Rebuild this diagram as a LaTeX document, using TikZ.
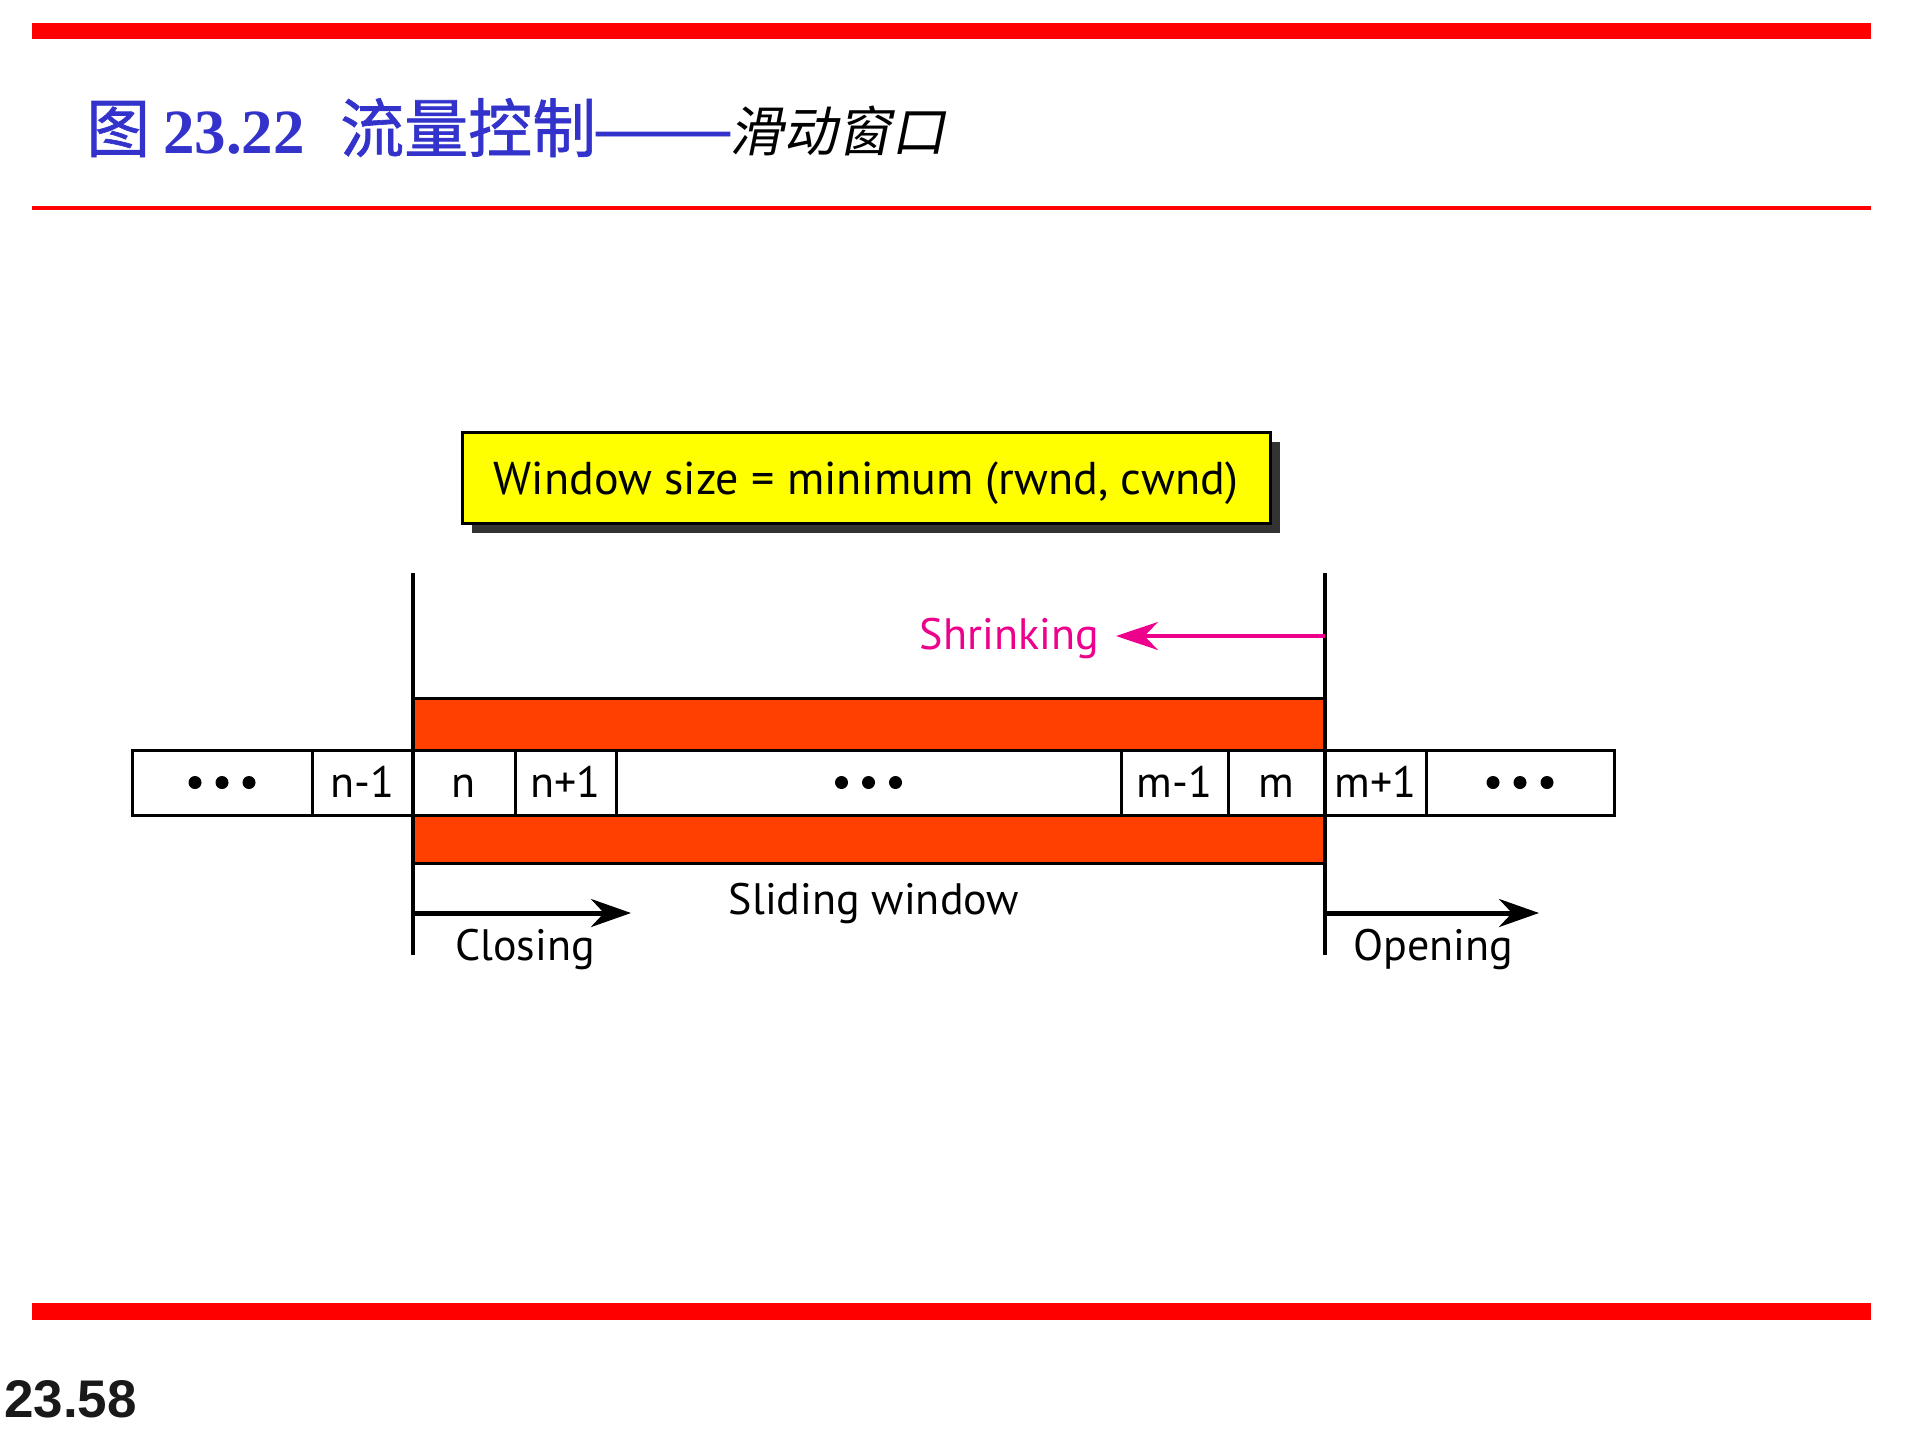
\documentclass[tikz,border=0pt]{standalone}
\usepackage{fontspec}
\usetikzlibrary{arrows.meta,shadows}
\newfontfamily\diagfont{PT Sans}
\newfontfamily\cjkfont[FakeBold=1]{Noto Sans CJK SC}
\newfontfamily\cjkslant[FakeSlant=0.2]{Noto Sans CJK SC}
\newfontfamily\titleserif{Liberation Serif}
\newfontfamily\pagefont{Liberation Sans}

\definecolor{rulered}{RGB}{255,0,0}
\definecolor{titleblue}{RGB}{51,51,204}
\definecolor{winorange}{RGB}{255,64,0}
\definecolor{boxyellow}{RGB}{255,255,0}
\definecolor{shrinkpink}{RGB}{236,0,140}
\definecolor{shadowgray}{RGB}{51,51,51}

\tikzset{
  titlecjk/.style={anchor=base west, inner sep=0pt, text=titleblue,
    font=\cjkfont\fontsize{64}{64}\selectfont},
  cell/.style={draw, line width=3pt, fill=white, minimum height=65pt,
    inner sep=0pt, text height=30pt, text depth=0pt,
    font=\diagfont\fontsize{44}{44}\selectfont},
  winbar/.style={draw, line width=3pt, fill=winorange, inner sep=0pt},
  edge/.style={line width=3.5pt},
  movearrow/.style={line width=5pt, -{Stealth[length=40pt, width=28pt]}},
  shrinkarrow/.style={line width=4.5pt, draw=shrinkpink,
    -{Stealth[length=42pt, width=28pt]}},
  label/.style={inner sep=0pt, font=\diagfont\fontsize{44}{44}\selectfont},
  dot/.style={fill=black}
}

\begin{document}
\begin{tikzpicture}[x=1pt,y=-1pt]
\useasboundingbox (0,0) rectangle (1920,1440);

% page rules
\fill[rulered] (32,23) rectangle (1871,39);
\fill[rulered] (32,206) rectangle (1871,210);
\fill[rulered] (32,1303) rectangle (1871,1320);

% heading
\node[titlecjk] (fig) at (86,152) {图};
\node[anchor=base west, inner sep=0pt, text=titleblue,
  font=\titleserif\bfseries\fontsize{63}{63}\selectfont] (fignum) at (163,153) {23.22};
\node[titlecjk] (figtitle) at (340,152) {流量控制};
\node[titlecjk] (figdash) at (592,152) {\scalebox{1.32}[1]{——}};
\node[anchor=base west, inner sep=0pt,
  font=\cjkslant\fontsize{54}{54}\selectfont] (figsub) at (729,151) {滑动窗口};

% page number
\node[anchor=base west, inner sep=0pt, text=black!90,
  font=\pagefont\bfseries\fontsize{53}{53}\selectfont] (pagenum) at (4,1417) {23.58};

% window size formula
\node[draw, line width=3pt, fill=boxyellow, minimum width=808pt, minimum height=91pt,
  inner sep=0pt, text height=34pt, text depth=0pt,
  font=\diagfont\fontsize{46}{46}\selectfont,
  general shadow={fill=shadowgray, shadow xshift=10pt, shadow yshift=-10pt}]
  (formula) at (866,477.5) {Window size = minimum (rwnd, cwnd)};

% sliding window bars
\node[winbar, minimum width=912pt, minimum height=52pt] (topbar) at (869,724) {};
\node[winbar, minimum width=912pt, minimum height=48pt] (botbar) at (869,839) {};

% byte cells
\node[cell, minimum width=180pt] (c1) at (222,782.5) {};
\node[cell, minimum width=101pt] (c2) at (362.5,782.5) {n-1};
\node[cell, minimum width=102pt] (c3) at (464,782.5) {n};
\node[cell, minimum width=101pt] (c4) at (565.5,782.5) {n+1};
\node[cell, minimum width=505pt] (c5) at (868.5,782.5) {};
\node[cell, minimum width=107pt] (c6) at (1174.5,782.5) {m-1};
\node[cell, minimum width=97pt] (c7) at (1276.5,782.5) {m};
\node[cell, minimum width=101pt] (c8) at (1375.5,782.5) {m+1};
\node[cell, minimum width=188pt] (c9) at (1520,782.5) {};

% ellipsis dots
\foreach \c in {c1,c5,c9}
  \foreach \d in {-27,0,27}
    \fill[dot] ([xshift=\d pt]\c.center) circle (6.5pt);

% window edges
\coordinate (ltop) at (413,573);
\coordinate (lbot) at (413,955);
\coordinate (rtop) at (1325,573);
\coordinate (rbot) at (1325,955);
\draw[edge] (ltop) -- (lbot);
\draw[edge] (rtop) -- (rbot);

% edge movements
\coordinate (closefrom) at (413,913);
\coordinate (closeto) at (631,913);
\coordinate (openfrom) at (1325,913);
\coordinate (opento) at (1539,913);
\coordinate (shrinkfrom) at (1325,636);
\coordinate (shrinkto) at (1116,636);
\draw[movearrow] (closefrom) -- (closeto);
\draw[movearrow] (openfrom) -- (opento);
\draw[shrinkarrow] (shrinkfrom) -- (shrinkto);

% labels
\node[label, anchor=base east, text=shrinkpink] (shrinklbl) at (1099,649) {Shrinking};
\node[label, anchor=base] (slidelbl) at (874,914) {Sliding window};
\node[label, anchor=base west] (closelbl) at (455,960) {Closing};
\node[label, anchor=base west] (openlbl) at (1353,960) {Opening};
\end{tikzpicture}
\end{document}
